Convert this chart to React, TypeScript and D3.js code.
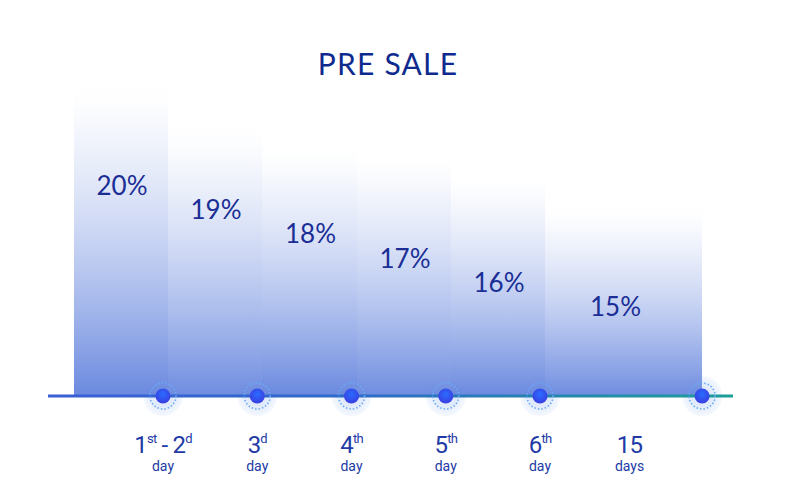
import React from "react";
import * as d3 from "d3";

// percent bonus per stage
const bonus = [20, 19, 18, 17, 16, 15];
// relative bar heights (0..100)
const barHeights = [100, 87, 81, 78, 71, 61];
// stage boundaries on the timeline (in day units)
const stageEdges = [0, 1, 2, 3, 4, 5, 6.72];
// milestone dots on the timeline
const milestones = [1, 2, 3, 4, 5, 6.72];
// tick label positions and texts
const tickPos = [1, 2, 3, 4, 5, 5.95];
const tickMain: [string, boolean][][] = [
  [["1", false], ["st", true], [" - 2", false], ["d", true]],
  [["3", false], ["d", true]],
  [["4", false], ["th", true]],
  [["5", false], ["th", true]],
  [["6", false], ["th", true]],
  [["15", false]],
];
const tickSub = ["day", "day", "day", "day", "day", "days"];

const W = 800;
const H = 502;

export default function App() {
  const x = d3.scaleLinear().domain([1, 5]).range([163, 540]);
  const y = d3.scaleLinear().domain([0, 100]).range([396, 80]);
  const labelY = d3.scaleLinear().domain([15, 20]).range([307, 186]);
  const barOffset = 5;
  const edge = (i: number) =>
    Math.round(x(stageEdges[i]) + (i === stageEdges.length - 1 ? 0 : barOffset));

  return (
    <svg
      width={W}
      height={H}
      style={{ position: "absolute", left: 0, top: 0, background: "#fff" }}
    >
      <defs>
        <linearGradient id="barGrad" x1="0" y1="0" x2="0" y2="1">
          <stop offset="0" stopColor="#ffffff" stopOpacity={0} />
          <stop offset="0.15" stopColor="#eef2fb" stopOpacity={0.6} />
          <stop offset="1" stopColor="#6a89df" stopOpacity={1} />
        </linearGradient>
        <linearGradient id="lineGrad" x1="0" y1="0" x2="1" y2="0">
          <stop offset="0" stopColor="#3a5ed6" />
          <stop offset="0.45" stopColor="#2f6bc8" />
          <stop offset="1" stopColor="#1c9e98" />
        </linearGradient>
        <radialGradient id="dotGrad" cx="0.5" cy="0.4" r="0.6">
          <stop offset="0" stopColor="#2a6cff" />
          <stop offset="1" stopColor="#3a3ee0" />
        </radialGradient>
        <radialGradient id="haloGrad" cx="0.5" cy="0.5" r="0.5">
          <stop offset="0.5" stopColor="#e0eafb" stopOpacity={1} />
          <stop offset="1" stopColor="#f0f5fd" stopOpacity={0.7} />
        </radialGradient>
      </defs>

      <text
        x={388}
        y={75}
        textAnchor="middle"
        fontFamily="Lato, 'Open Sans', sans-serif"
        fontSize={30}
        fontWeight={400}
        letterSpacing={1.2}
        fill="#0f2a8e"
      >
        PRE SALE
      </text>

      {milestones.map((m, i) => (
        <circle key={"h" + i} cx={x(m)} cy={396} r={20} fill="url(#haloGrad)" />
      ))}

      <g shapeRendering="crispEdges">
        {barHeights.map((h, i) => {
          const x0 = edge(i);
          const x1 = edge(i + 1);
          return (
            <rect
              key={"b" + i}
              x={x0}
              y={y(h)}
              width={x1 - x0}
              height={y(0) - y(h)}
              fill="url(#barGrad)"
              opacity={i % 2 === 0 ? 1 : 0.97}
            />
          );
        })}
      </g>

      {bonus.map((b, i) => {
        const x0 = edge(i);
        const x1 = edge(i + 1);
        return (
          <text
            key={"p" + i}
            x={i === bonus.length - 1 ? (x0 + x1) / 2 - 8 : (x0 + x1) / 2 + 1}
            y={labelY(b) + 9}
            textAnchor="middle"
            fontFamily="Lato, 'Open Sans', sans-serif"
            fontSize={26}
            fontWeight={400}
            fill="#1a2e95"
          >
            {b}%
          </text>
        );
      })}

      <rect x={48} y={394.5} width={685} height={3} fill="url(#lineGrad)" />

      {milestones.map((m, i) => (
        <g key={"d" + i} transform={`translate(${x(m)},396)`}>
          <circle
            r={13}
            fill="none"
            stroke="#6aaaf5"
            strokeWidth={1.6}
            strokeDasharray="1.5 2"
          />
          <circle r={7.5} fill="url(#dotGrad)" />
        </g>
      ))}

      {tickPos.map((t, i) => (
        <g key={"t" + i} fontFamily="Roboto, sans-serif" fill="#223aa6">
          <text x={x(t)} y={453} textAnchor="middle" fontSize={24} letterSpacing={-0.8}>
            {tickMain[i].map(([s, sup], j) => (
              <tspan
                key={j}
                fontSize={sup ? 13 : 24}
                dy={sup ? -10 : j > 0 && tickMain[i][j - 1][1] ? 10 : 0}
              >
                {s}
              </tspan>
            ))}
          </text>
          <text x={x(t)} y={471} textAnchor="middle" fontSize={14}>
            {tickSub[i]}
          </text>
        </g>
      ))}
    </svg>
  );
}
